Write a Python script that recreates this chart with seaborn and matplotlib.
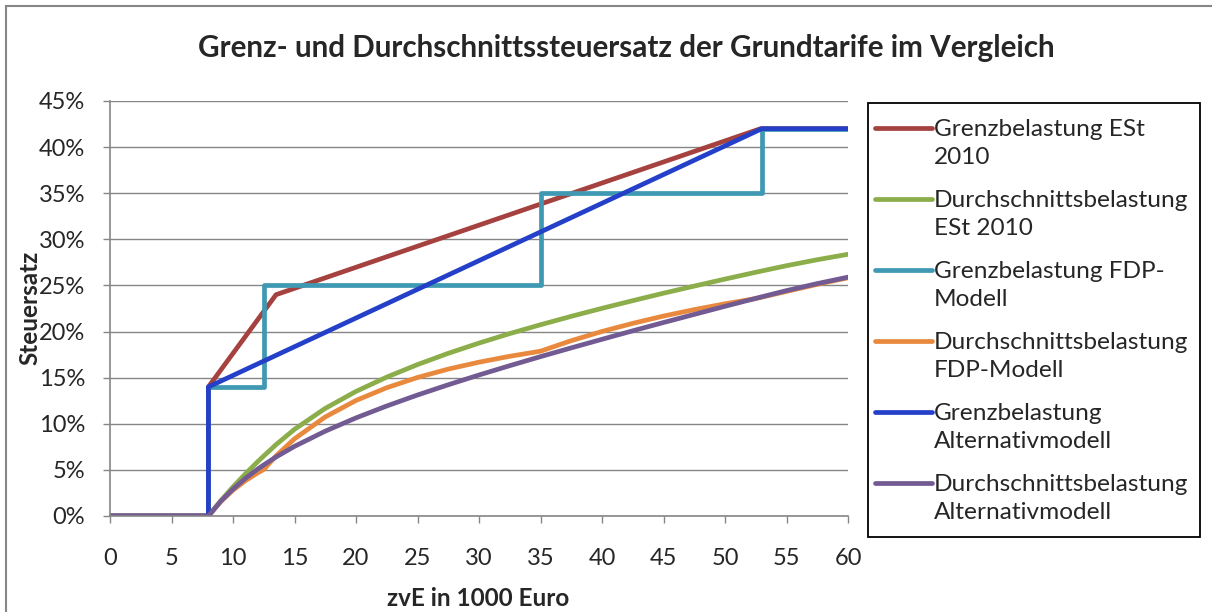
#!/usr/bin/env python3

import seaborn as sns
from matplotlib import pyplot as plt
from matplotlib.legend_handler import HandlerLine2D
from matplotlib.patches import Rectangle
from matplotlib.ticker import PercentFormatter

# zvE in 1000 Euro, Steuersatz in %
x_avg = [0, 8, 9, 10, 11, 12, 12.5, 13.5, 15, 17.5, 20, 22.5, 25, 27.5, 30,
         32.5, 35, 37.5, 40, 42.5, 45, 47.5, 50, 52.5, 55, 57.5, 60]
est_avg = [0, 0, 1.65, 3.16, 4.56, 5.88, 6.51, 7.74, 9.40, 11.67, 13.51, 15.06,
           16.42, 17.64, 18.75, 19.78, 20.74, 21.65, 22.52, 23.35, 24.16, 24.93,
           25.69, 26.43, 27.14, 27.79, 28.38]
fdp_avg = [0, 0, 1.56, 2.80, 3.82, 4.67, 5.04, 6.52, 8.37, 10.74, 12.53, 13.91,
           15.02, 15.93, 16.68, 17.32, 17.87, 19.01, 20.01, 20.89, 21.68, 22.38,
           23.01, 23.58, 24.35, 25.12, 25.83]
alt_avg = [0, 0, 1.59, 2.92, 4.07, 5.08, 5.54, 6.40, 7.55, 9.20, 10.64, 11.93,
           13.12, 14.23, 15.29, 16.30, 17.28, 18.23, 19.16, 20.08, 20.98, 21.86,
           22.74, 23.60, 24.44, 25.20, 25.90]

est_marg_x = [0, 8, 8, 13.5, 52.9, 60]
est_marg = [0, 0, 14, 24, 42, 42]
fdp_marg_x = [0, 8, 8, 12.5, 12.5, 35, 35, 53, 53, 60]
fdp_marg = [0, 0, 14, 14, 25, 25, 35, 35, 42, 42]
alt_marg_x = [0, 8, 8, 53, 60]
alt_marg = [0, 0, 14, 42, 42]

labels = ['Grenzbelastung ESt\n2010',
          'Durchschnittsbelastung\nESt 2010',
          'Grenzbelastung FDP-\nModell',
          'Durchschnittsbelastung\nFDP-Modell',
          'Grenzbelastung\nAlternativmodell',
          'Durchschnittsbelastung\nAlternativmodell']
colors = ['#A5413E', '#8BAD4A', '#3F99B2', '#E8893E', '#2440C8', '#725A92']


class FirstLineHandler(HandlerLine2D):
    # put the legend line next to the first text line, like Excel does
    def create_artists(self, legend, orig_handle, xdescent, ydescent,
                       width, height, fontsize, trans):
        artists = super().create_artists(legend, orig_handle, xdescent,
                                         ydescent, width, height, fontsize,
                                         trans)
        for a in artists:
            a.set_ydata([y + 11 for y in a.get_ydata()])
        return artists


sns.set_style('white')
plt.rcParams['font.family'] = ['Lato', 'DejaVu Sans']

fig = plt.figure(figsize=(12.12, 6.12), dpi=100)
W, H = 1212, 612
ax = fig.add_axes([110 / W, 1 - 516 / H, (848 - 110) / W, (516 - 101) / H])

series = [(est_marg_x, est_marg), (x_avg, est_avg), (fdp_marg_x, fdp_marg),
          (x_avg, fdp_avg), (alt_marg_x, alt_marg), (x_avg, alt_avg)]
for (xs, ys), lab, col in zip(series, labels, colors):
    sns.lineplot(x=xs, y=ys, estimator=None, sort=False, color=col,
                 linewidth=3.4, label=lab, ax=ax,
                 solid_capstyle='round', solid_joinstyle='round')

grey = '#868686'
ax.set_xlim(0, 60)
ax.set_ylim(0, 45)
ax.set_xticks(range(0, 61, 5))
ax.set_yticks(range(0, 46, 5))
ax.yaxis.set_major_formatter(PercentFormatter(decimals=0))
ax.grid(axis='y', color=grey, linewidth=1)
ax.set_axisbelow(True)
for s in ['top', 'right']:
    ax.spines[s].set_visible(False)
for s in ['left', 'bottom']:
    ax.spines[s].set_color(grey)
    ax.spines[s].set_linewidth(1.2)
ax.tick_params(axis='both', which='major', length=5, width=1, color=grey,
               direction='out', labelsize=17, left=True, bottom=True)
ax.tick_params(axis='x', pad=18)
ax.tick_params(axis='y', pad=13)

handles, labs = ax.get_legend_handles_labels()
ax.get_legend().remove()
leg = fig.legend(handles, labs, loc='upper left',
                 bbox_to_anchor=(868 / W, 1 - 112 / H),
                 fontsize=17.6, frameon=False, handlelength=2.3,
                 handletextpad=0.1, labelspacing=0.9, borderpad=0.3,
                 borderaxespad=0,
                 handler_map={h: FirstLineHandler() for h in handles})
for t in leg.get_texts():
    t.set_linespacing(1.41)

# legend frame
fig.patches.append(Rectangle((868 / W, 1 - 537 / H), (1200 - 868) / W,
                             (537 - 103) / H, transform=fig.transFigure,
                             fill=False, edgecolor='black', linewidth=1.3))

fig.text(626 / W, 1 - 48 / H,
         'Grenz- und Durchschnittssteuersatz der Grundtarife im Vergleich',
         ha='center', va='center', fontsize=21.3, fontweight='bold')
fig.text(30 / W, 1 - 308 / H, 'Steuersatz', rotation=90, ha='center',
         va='center', fontsize=17.5, fontweight='bold')
fig.text(478 / W, 1 - 598 / H, 'zvE in 1000 Euro', ha='center', va='center',
         fontsize=17.5, fontweight='bold')

fig.patches.append(Rectangle((6 / W, -0.1), 1.2, 1.1 - 6 / H,
                             transform=fig.transFigure, fill=False,
                             edgecolor=grey, linewidth=1.5))

fig.savefig('out.png', dpi=100)
